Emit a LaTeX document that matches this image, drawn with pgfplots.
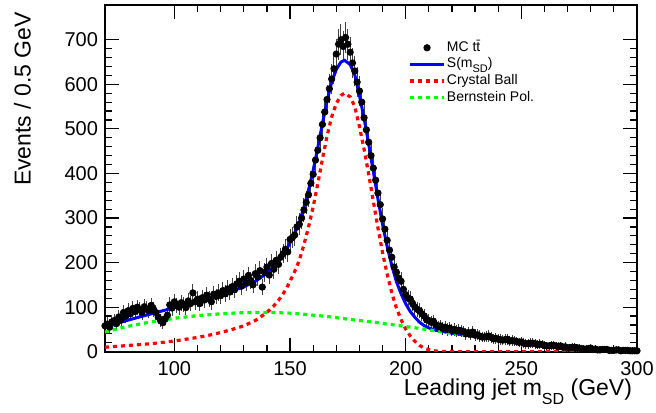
\documentclass[border=0pt]{standalone}
\usepackage{fontspec}
\setmainfont{Liberation Sans}
\usepackage{pgfplots}
\pgfplotsset{compat=1.18}
\usepackage{pgfplotstable}

\definecolor{rootblue}{RGB}{0,0,255}
\definecolor{rootred}{RGB}{255,0,0}
\definecolor{rootgreen}{RGB}{0,255,0}

% MC ttbar, 1 GeV steps (x, events, error)
\pgfplotstableread{
x y e
70 58 8
71 62 9
72 55 8
73 67 9
74 70 9
75 63 9
76 78 10
77 72 9
78 88 10
79 80 10
80 92 11
81 85 10
82 97 11
83 90 10
84 100 11
85 94 11
86 88 10
87 101 11
88 96 11
89 92 11
90 104 11
91 95 11
92 88 10
93 78 10
94 70 9
95 65 9
96 74 9
97 82 10
98 105 11
99 98 11
100 112 12
101 104 11
102 100 11
103 110 12
104 106 11
105 99 11
106 114 12
107 108 11
108 132 13
109 112 12
110 118 12
111 108 11
112 121 12
113 116 12
114 127 12
115 119 12
116 112 12
117 129 12
118 124 12
119 132 13
120 126 12
121 137 13
122 130 13
123 141 13
124 134 13
125 146 13
126 139 13
127 152 14
128 158 14
129 147 13
130 163 14
131 155 14
132 171 14
133 160 14
134 150 13
135 175 15
136 168 14
137 182 15
138 145 13
139 178 15
140 190 15
141 172 14
142 198 15
143 185 15
144 205 16
145 196 15
146 212 16
147 220 16
148 230 17
149 224 16
150 252 17
151 256 18
152 262 18
153 280 18
154 286 19
155 300 19
156 318 20
157 335 20
158 352 21
159 378 21
160 398 22
161 430 23
162 452 23
163 480 24
164 510 25
165 538 25
166 566 26
167 590 27
168 612 27
169 635 28
170 668 28
171 690 29
172 700 29
173 685 29
174 705 29
175 690 29
176 672 28
177 648 28
178 630 28
179 605 27
180 585 27
181 560 26
182 525 25
183 498 25
184 470 24
185 440 23
186 412 22
187 385 22
188 356 21
189 330 20
190 298 19
191 275 18
192 250 17
193 228 17
194 212 16
195 190 15
196 178 15
197 165 14
198 158 14
199 140 13
200 128 12
201 120 12
202 118 12
203 108 11
204 100 11
205 95 11
206 92 11
207 85 10
208 80 10
209 72 9
210 70 9
211 66 9
212 68 9
213 60 9
214 56 8
215 58 8
216 52 8
217 55 8
218 50 8
219 53 8
220 48 8
221 50 8
222 46 7
223 48 8
224 47 8
225 45 7
226 40 7
227 43 7
228 39 7
229 44 7
230 37 7
231 38 7
232 35 7
233 33 6
234 33 6
235 34 6
236 35 7
237 32 6
238 29 6
239 30 6
240 28 6
241 27 6
242 26 6
243 27 6
244 28 6
245 24 5
246 25 6
247 24 5
248 23 5
249 21 5
250 22 5
251 19 5
252 18 5
253 18 5
254 19 5
255 19 5
256 18 5
257 16 4
258 17 5
259 16 4
260 14 4
261 13 4
262 13 4
263 14 4
264 14 4
265 13 4
266 11 4
267 13 4
268 10 3
269 11 4
270 9 3
271 9 3
272 10 3
273 10 3
274 9 3
275 8 3
276 7 3
277 6 3
278 6 3
279 7 3
280 8 3
281 5 2
282 6 3
283 4 2
284 4 2
285 5 2
286 5 2
287 5 2
288 3 2
289 3 2
290 3 2
291 4 2
292 4 2
293 2 2
294 3 2
295 3 2
296 3 2
297 2 2
298 2 2
299 2 2
300 2 2
}\mcdata

\begin{document}
\begin{tikzpicture}
\begin{axis}[
  scale only axis, width=266pt, height=173.35pt,
  at={(0,0)}, anchor=south west,
  xmin=70, xmax=300, ymin=0, ymax=778,
  xtick={100,150,...,300}, ytick={0,100,...,700},
  minor x tick num=4, minor y tick num=4,
  tick pos=both, tick align=inside,
  major tick length=7pt, minor tick length=3.5pt,
  axis line style={line width=1pt},
  every tick/.style={black, line width=0.6pt},
  tick label style={font=\fontsize{10}{12}\selectfont},
  /pgf/number format/assume math mode=true,
  xticklabel style={yshift=-1.5pt},
  xlabel={Leading jet m\raisebox{-0.7ex}{\fontsize{8}{9}\selectfont SD} (GeV)},
  every axis x label/.style={at={(axis description cs:1,0)}, anchor=base east,
    yshift=-22pt, xshift=1pt, font=\fontsize{11.5}{13}\selectfont},
  ylabel={Events / 0.5 GeV},
  every axis y label/.style={at={(axis description cs:-0.126,1)}, rotate=90,
    anchor=south east, font=\fontsize{11.5}{13}\selectfont},
  legend cell align=left,
  legend style={at={(rel axis cs:0.5695,0.90)}, anchor=north west,
    draw=none, fill=none, font=\fontsize{7}{8}\selectfont,
    inner sep=0pt, row sep=0.6pt,
    nodes={inner sep=0.6pt, text height=5pt, text depth=1.5pt},
    /tikz/every even column/.append style={column sep=4pt}},
]
\addplot[black, only marks, mark=*, mark size=1.6pt,
  error bars/.cd, y dir=both, y explicit,
  error bar style={line width=0.5pt, black!75},
  error mark options={mark size=1.3pt, line width=0.5pt, black!75}]
  table[x=x, y=y, y error=e] {\mcdata};
\addlegendentry{MC t\={t}}

\addplot[rootblue, line width=1.5pt] coordinates {
(70,54)(75,63)(80,71)(85,78)(90,85)(95,92)(100,99)(105,106)(110,113)
(115,120)(120,128)(125,136.5)(130,145.5)(135,158)(140,176)(143,191)
(145,202.5)(148,225)(150,244.5)(152,266)(154,290)(156,324)(158,363)
(160,407)(162,458)(164,512)(166,563)(168,605)(170,633.5)(172,650)
(173.5,654)(176,644.5)(178,621)(180,575)(182,524)(184,466)(186,404.5)
(188,343)(190,285.5)(192,236)(194,193)(196,157)(198,130)(200,107.5)
(202,90)(204,77)(206,66)(208,58.5)(210,53.5)(212,49.7)(214,47)
(218,43.4)(220,41.5)(225,38)(230,34.5)(235,31)(240,27.5)(245,24)
(250,21)(255,18)(260,15)(265,12.5)(270,10)(275,8)(280,6)(285,4.5)
(290,3)(295,2)(300,1)};
\addlegendentry{S(m\raisebox{-0.6ex}{\fontsize{5.5}{6}\selectfont SD})}

\addplot[rootred, line width=1.6pt, dash pattern=on 2pt off 2pt] coordinates {
(70,10)(75,12)(80,14)(85,16)(90,18)(95,21)(100,24)(105,28)(110,32)
(115,37)(120,43)(125,50)(130,58)(135,70)(140,88)(143,103)(145,115)
(148,138)(150,158)(152,180)(154,205)(156,240)(158,280)(160,325)
(162,377)(164,432)(166,484)(168,527)(170,557)(172,575)(173.5,580)
(176,572)(178,550)(180,505)(182,455)(184,398)(186,338)(188,278)
(190,222)(192,174)(194,132)(196,98)(198,72)(200,51)(202,35)(204,23)
(206,14)(208,8)(210,4.5)(212,2.2)(214,1)(218,0.4)(225,0)(300,0)};
\addlegendentry{Crystal Ball}

\addplot[rootgreen, line width=1.6pt, dash pattern=on 2pt off 2pt] coordinates {
(70,44)(75,51)(80,57)(85,62)(90,67)(95,71)(100,75)(105,78)(110,81)
(115,83)(120,85)(125,86.5)(130,87.5)(135,88)(140,88)(145,87.5)
(150,86.5)(155,84.5)(160,82)(165,79.5)(170,76.5)(175,73)(180,70)
(185,67)(190,63.5)(195,60)(200,56.5)(205,53)(210,49)(215,45)
(220,41.5)(225,38)(230,34.5)(235,31)(240,27.5)(245,24)(250,21)
(255,18)(260,15)(265,12.5)(270,10)(275,8)(280,6)(285,4.5)(290,3)
(295,2)(300,1)};
\addlegendentry{Bernstein Pol.}
\end{axis}
\pgfresetboundingbox
\path[use as bounding box] (-52.5pt,-30.15pt) rectangle (275.5pt,175.85pt);
\end{tikzpicture}
\end{document}
